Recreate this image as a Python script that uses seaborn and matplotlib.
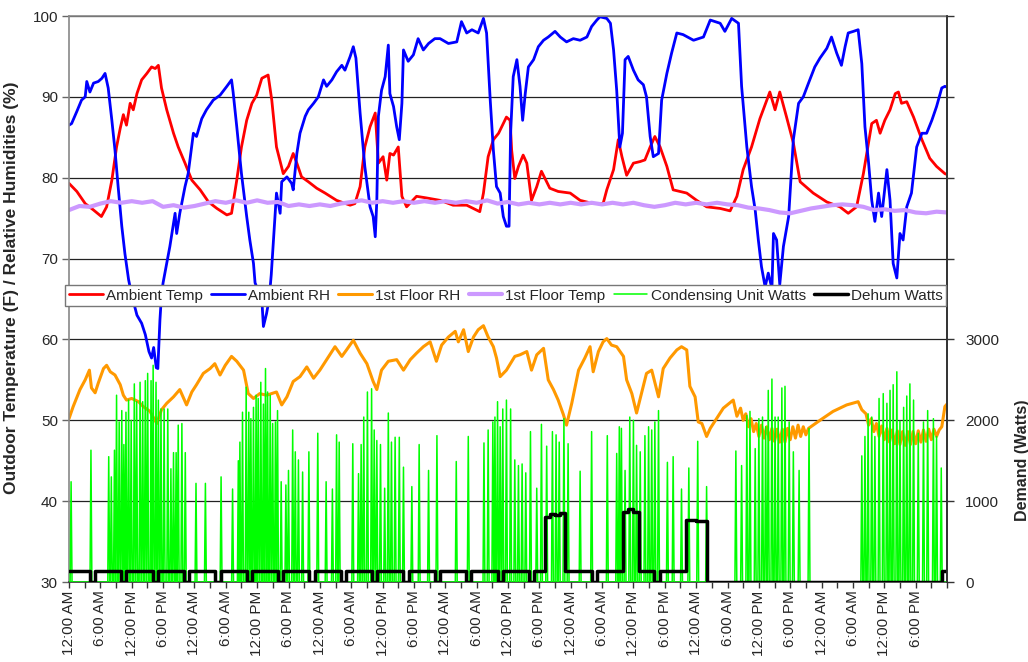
import numpy as np
import matplotlib
matplotlib.use("Agg")
import matplotlib.pyplot as plt
import seaborn as sns

# ---------------- data (hours from start of week) ----------------
tod_labels = ["12:00 AM", "6:00 AM", "12:00 PM", "6:00 PM"]
n_days = 7

at_t = [0, 1.5, 3.1, 4.7, 6.2, 7.2, 8.2, 9.1, 9.8, 10.4, 11.0, 11.7, 12.3, 13.0, 13.9, 14.9, 15.8, 16.5,
        17.1, 17.7, 18.7, 20.0, 20.9, 22.2, 23.5, 25.1, 26.7, 28.3, 30.2, 31.1, 32.1, 33.0, 34.0, 35.0,
        35.9, 36.9, 37.5, 38.1, 38.8, 39.7, 41.0, 42.0, 42.9, 43.6, 44.5, 45.8, 47.4, 49.0, 51.2, 53.8,
        54.7, 55.7, 56.6, 57.6, 58.6, 58.8, 59.2, 60.1, 60.8, 61.4, 62.1, 63.0, 63.7, 64.6, 66.5, 68.4,
        71.0, 73.5, 76.1, 78.6, 79.3, 80.2, 81.2, 82.2, 83.1, 83.7, 84.4, 84.7, 85.3, 86.0, 86.9, 87.6,
        88.5, 89.5, 90.4, 92.0, 93.6, 95.9, 97.8, 100.3, 102.2, 102.9, 104.2, 105.1, 105.8, 106.7, 108.0,
        109.3, 110.2, 111.2, 112.1, 113.1, 114.4, 115.6, 118.2, 120.1, 122.0, 124.6, 126.5, 127.8, 129.0,
        130.6, 132.2, 134.1, 135.1, 136.0, 137.3, 138.6, 139.9, 142.4, 145.0, 147.5, 149.1, 150.7, 152.0,
        153.6, 154.5, 155.2, 156.1, 157.1, 158.1, 158.7, 159.3, 160.3, 161.6, 163.2, 164.7, 166.0, 167.6, 168.0]
at_v = [79.3, 78.3, 76.8, 76.0, 75.2, 76.4, 79.7, 83.8, 86.1, 87.8, 86.5, 89.2, 88.4, 90.4, 92.1, 92.9, 93.7, 93.5,
        93.9, 91.1, 88.4, 85.5, 83.8, 81.8, 79.7, 78.5, 77.0, 76.2, 75.4, 75.6, 79.7, 83.8, 87.1, 89.2,
        90.2, 92.3, 92.5, 92.7, 89.6, 83.8, 80.5, 81.4, 83.0, 81.8, 80.1, 79.5, 78.7, 78.1, 77.2, 76.6,
        76.8, 78.9, 83.8, 86.3, 88.0, 85.9, 81.8, 82.6, 79.7, 83.0, 82.8, 83.8, 77.7, 76.4, 77.7, 77.5,
        77.2, 76.6, 76.6, 75.8, 78.1, 82.6, 84.7, 85.5, 86.7, 87.5, 87.1, 83.4, 79.9, 81.4, 82.8, 81.8,
        77.2, 78.9, 80.8, 78.7, 78.3, 78.1, 77.2, 76.8, 76.8, 78.5, 81.0, 84.7, 82.6, 80.3, 81.8,
        82.0, 82.2, 83.8, 85.1, 83.8, 81.4, 78.5, 78.1, 77.2, 76.4, 76.2, 75.9, 77.7, 81.0,
        83.8, 87.3, 90.6, 88.4, 90.6, 87.5, 84.3, 79.5, 78.1, 77.0, 76.4, 75.6, 76.4, 80.5,
        86.7, 87.1, 85.5, 87.1, 88.4, 90.4, 90.6, 89.2, 89.4, 87.5, 84.7, 82.4, 81.4, 80.5, 80.4]

rh_t = [0, 0.5, 1.5, 2.4, 3.1, 3.4, 4.0, 4.7, 5.6, 6.3, 6.9, 7.5, 8.2, 8.8, 9.4, 10.1, 10.7, 11.4, 12.0, 13.0,
        13.9, 14.6, 15.3, 15.8, 16.2, 16.7, 17.0, 17.4, 17.7, 18.0, 19.3, 20.3, 20.6, 21.2, 22.2, 22.8, 23.8,
        24.4, 25.4, 26.3, 27.6, 28.9, 30.2, 31.1, 31.4, 32.1, 33.0, 34.0, 34.6, 35.3, 35.6, 36.9, 37.2, 37.8,
        38.3, 38.7, 39.7, 40.4, 40.7, 41.7, 42.6, 42.9, 43.6, 44.2, 45.2, 45.8, 46.8, 47.7, 48.7, 49.3, 50.3,
        51.2, 52.2, 52.8, 53.8, 54.4, 54.9, 55.7, 56.6, 57.6, 58.2, 58.6, 58.9, 59.2, 59.8, 60.5, 61.1, 61.4,
        62.1, 62.7, 63.2, 63.7, 64.0, 64.9, 65.9, 66.8, 67.8, 68.8, 70.0, 71.0, 72.6, 74.2, 75.1, 76.1, 77.1,
        78.3, 79.3, 79.9, 80.6, 81.2, 81.8, 82.5, 83.1, 83.7, 84.2, 84.5, 85.0, 85.7, 86.3, 86.8, 87.3, 87.9,
        88.9, 89.8, 90.8, 91.7, 93.0, 94.0, 95.2, 96.5, 97.8, 99.1, 100.0, 101.0, 101.6, 102.9, 103.6, 104.2,
        104.8, 105.4, 105.9, 106.4, 107.0, 108.0, 108.9, 109.9, 110.5, 111.2, 111.8, 112.8, 113.4, 114.4,
        115.3, 116.3, 117.5, 119.5, 121.4, 122.7, 124.6, 125.5, 126.8, 128.1, 128.7, 129.7, 130.6, 131.3,
        131.9, 132.5, 133.2, 133.8, 134.5, 134.8, 135.4, 136.0, 136.7, 137.7, 138.6, 139.6, 140.5, 141.5,
        142.7, 143.7, 145.0, 145.9, 146.9, 147.8, 148.5, 149.1, 150.1, 151.0, 151.7, 152.3, 153.0, 153.6,
        154.2, 154.9, 155.5, 156.5, 157.1, 157.7, 158.4, 159.0, 159.6, 160.3, 161.2, 162.2, 163.2, 164.1,
        165.1, 166.0, 167.0, 167.6, 168.0]
rh_v = [86.5, 86.7, 88.2, 89.6, 90.0, 91.9, 90.6, 91.7, 91.9, 92.3, 92.9, 91.1, 87.1, 83.4, 78.9, 74.0, 70.6, 67.4, 65.5, 63.0,
        62.0, 60.6, 58.5, 57.7, 59.0, 56.5, 56.4, 62.4, 65.5, 67.0, 71.5, 75.6, 73.1, 75.6, 78.9, 80.5, 85.5,
        85.1, 87.3, 88.4, 89.6, 90.2, 91.3, 92.1, 90.6, 86.3, 80.5, 75.2, 72.3, 69.4, 67.0, 64.9, 61.6, 63.2,
        65.0, 68.0, 78.1, 75.6, 79.5, 80.1, 79.3, 78.5, 83.0, 85.5, 87.6, 88.4, 89.2, 90.0, 92.1, 91.3, 92.1,
        93.1, 93.9, 93.3, 95.0, 96.2, 94.8, 88.0, 81.4, 76.4, 75.2, 72.7, 77.2, 87.6, 90.8, 92.5, 96.4, 90.4,
        88.8, 86.3, 84.7, 89.2, 95.8, 94.4, 95.2, 97.2, 95.8, 96.6, 97.2, 97.2, 96.6, 96.8, 99.3, 97.9, 98.3,
        97.9, 99.7, 97.9, 89.6, 83.4, 78.9, 78.1, 75.2, 74.0, 74.0, 85.5, 92.5, 94.6, 91.3, 87.1, 90.4, 93.7,
        94.6, 96.2, 97.0, 97.4, 98.1, 97.4, 96.8, 97.2, 97.0, 97.4, 98.7, 99.5, 99.9, 99.7, 99.1, 95.8,
        90.8, 83.8, 85.5, 94.6, 95.0, 93.3, 92.1, 91.5, 90.0, 85.1, 82.6, 83.0, 89.6, 92.9,
        95.4, 97.9, 97.7, 97.0, 97.4, 99.5, 99.1, 98.1, 99.7, 99.1, 91.3, 83.8, 78.9, 76.0,
        72.3, 69.0, 66.5, 68.2, 66.3, 73.1, 72.3, 66.8, 71.5, 75.2, 84.7, 89.2, 90.0, 91.7,
        93.7, 94.8, 96.0, 97.4, 95.4, 93.9, 96.2, 97.9, 98.1, 98.3, 94.1, 86.3, 81.8, 77.2,
        74.6, 78.1, 75.2, 81.0, 77.2, 69.4, 67.6, 73.1, 72.3, 76.4, 78.1, 83.8, 85.5, 85.5,
        87.1, 88.8, 91.1, 91.3, 91.2]

frh_t = [0, 0.8, 2.1, 3.1, 3.9, 4.3, 5.0, 5.6, 6.6, 7.2, 7.9, 8.8, 9.8, 10.4, 11.0, 12.0, 13.3, 14.2, 15.5, 16.8,
         17.7, 18.7, 20.0, 21.2, 22.5, 23.5, 24.4, 25.7, 27.0, 27.9, 28.9, 29.9, 31.1, 32.1, 33.4, 34.3, 35.3,
         36.5, 37.8, 39.7, 40.7, 41.7, 42.9, 44.2, 45.5, 46.8, 48.0, 49.3, 50.9, 52.2, 53.1, 54.4, 55.7, 57.0,
         58.2, 58.9, 59.8, 61.1, 62.7, 64.0, 65.3, 66.5, 67.8, 69.1, 70.3, 71.3, 72.6, 73.9, 74.5, 75.5, 76.4,
         77.4, 78.3, 79.3, 80.2, 81.2, 81.8, 82.5, 83.7, 85.3, 86.3, 87.6, 88.5, 89.5, 90.8, 91.7, 92.7, 93.6,
         94.6, 95.2, 96.2, 97.5, 98.7, 99.7, 100.3, 101.3, 102.2, 102.9, 103.8, 104.8, 106.1, 106.7, 107.7,
         108.6, 109.3, 110.5, 111.5, 112.8, 113.7, 115.0, 116.3, 117.2, 118.2, 118.8, 119.8, 120.4, 121.1,
         122.0, 122.7, 123.9, 125.2, 127.1, 127.8, 128.5, 129.0, 129.5, 130.0, 130.5, 131.0, 131.5, 132.0,
         132.5, 133.0, 133.5, 134.0, 134.5, 135.0, 135.5, 136.0, 136.5, 137.0, 137.5, 138.0, 138.5, 139.0,
         139.5, 140.0, 140.5, 141.0, 141.5, 143.7, 146.2, 148.8, 151.0, 151.7, 152.5, 153.0, 153.5, 154.0,
         154.5, 155.0, 155.5, 156.0, 156.5, 157.0, 157.5, 158.0, 158.5, 159.0, 159.5, 160.0, 160.5, 161.0,
         161.5, 162.0, 162.5, 163.0, 163.5, 164.0, 164.5, 165.0, 165.5, 166.0, 166.5, 167.0, 167.6, 168.0]
frh_v = [50.2, 51.7, 53.8, 55.0, 56.2, 54.0, 53.4, 54.6, 56.4, 56.8, 56.0, 55.6, 54.4, 53.1, 52.5, 52.7, 52.3, 51.7, 51.1, 49.6,
         51.3, 52.1, 52.9, 53.8, 51.9, 53.5, 54.4, 55.8, 56.4, 57.0, 55.6, 56.8, 57.9, 57.3, 56.2, 53.3, 52.7,
         53.3, 53.1, 53.5, 51.9, 52.9, 54.8, 55.4, 56.6, 55.2, 56.2, 57.5, 59.1, 57.9, 58.7, 59.9, 58.3, 57.0,
         54.8, 53.8, 56.2, 57.3, 57.5, 56.2, 57.5, 58.3, 59.1, 59.7, 57.3, 59.3, 60.3, 61.0, 59.7, 61.2, 58.5,
         60.3, 61.2, 61.7, 60.3, 59.1, 57.7, 55.4, 56.2, 57.9, 58.1, 58.5, 56.2, 58.1, 58.9, 55.0, 53.8, 52.5,
         50.7, 49.4, 52.1, 56.2, 57.7, 59.1, 56.0, 58.5, 59.7, 60.1, 59.3, 59.1, 57.9, 55.0, 53.3,
         50.9, 52.7, 55.8, 56.2, 52.9, 56.4, 57.7, 58.7, 59.1, 58.7, 54.2, 52.9, 49.8, 49.6,
         48.0, 49.0, 50.2, 51.5, 52.5, 50.5, 51.5, 50.0, 50.8, 49.2, 50.2, 48.6, 49.6, 48.0,
         49.4, 47.8, 49.2, 47.6, 49.0, 47.4, 48.9, 47.3, 48.9, 47.3, 49.0, 47.6, 49.2, 47.8,
         49.4, 48.0, 49.2, 48.2, 49.0, 50.0, 51.1, 51.9, 52.3, 51.3, 50.8, 49.4, 50.2, 48.6,
         49.6, 48.0, 49.3, 47.6, 49.0, 47.3, 48.8, 47.1, 48.7, 47.0, 48.6, 46.9, 48.6, 47.0,
         48.6, 47.1, 48.7, 47.3, 48.8, 47.4, 48.9, 47.6, 48.9, 48.0, 48.8, 49.2, 51.7, 52.0]

ft_t = np.arange(0, 169, 2)
ft_v = [76.0, 76.5, 76.4, 76.8, 77.1, 76.9, 77.1, 76.9, 77.1, 76.4, 76.6, 76.3, 76.5, 76.8, 77.1, 76.9, 77.2,
        76.9, 77.2, 76.9, 77.0, 76.5, 76.7, 76.5, 76.7, 76.5, 76.8, 77.0, 77.2, 76.9, 77.1, 76.9, 77.1, 76.9,
        77.1, 76.9, 77.1, 76.9, 77.1, 76.9, 77.2, 76.8, 77.0, 76.7, 76.9, 76.7, 76.9, 76.7, 76.9, 76.7, 76.9,
        76.7, 76.9, 76.7, 76.9, 76.6, 76.4, 76.6, 76.9, 76.7, 76.9, 76.7, 76.9, 76.7, 76.6, 76.3, 76.2, 76.0,
        75.7, 75.6, 75.9, 76.2, 76.4, 76.6, 76.7, 76.6, 76.4, 76.0, 76.1, 75.9, 76.0, 75.7, 75.6, 75.8, 75.7]

cu_t = [0.4, 4.2, 7.6, 8.1, 8.7, 9.1, 9.6, 10.1, 10.5, 10.9, 11.4, 11.9, 12.5, 12.95, 13.6, 14.1, 14.6, 15.05,
        15.7, 16.1, 16.65, 17.1, 17.6, 18.2, 18.9, 19.5, 20.0, 20.5, 20.9, 21.6, 22.25, 24.3, 26.1, 29.1, 31.3,
        32.4, 32.7, 33.2, 33.9, 34.4, 34.8, 35.3, 35.8, 36.2, 36.7, 37.2, 37.6, 38.0, 38.5, 38.97, 39.5, 39.9,
        40.6, 41.5, 42.0, 42.8, 43.3, 43.9, 44.7, 45.9, 47.6, 49.2, 50.4, 51.2, 51.7, 54.3, 55.4, 55.9, 56.4,
        57.1, 57.9, 58.4, 58.9, 59.6, 60.4, 61.1, 61.7, 62.4, 63.2, 64.0, 65.6, 67.0, 68.8, 70.4, 74.1, 76.4,
        79.4, 80.2, 81.1, 81.5, 82.0, 82.5, 83.0, 83.7, 84.5, 85.3, 86.0, 86.7, 87.4, 88.3, 89.5, 90.4, 91.4,
        92.5, 93.2, 93.8, 94.7, 95.5, 97.8, 100.0, 103.0, 104.8, 105.3, 105.7, 106.4, 107.3, 108.0, 108.6,
        109.3, 110.2, 110.9, 111.5, 112.1, 112.8, 114.5, 115.6, 117.2, 118.6, 120.3, 122.0, 127.6, 128.7,
        129.7, 130.3, 131.3, 132.0, 132.7, 133.3, 133.8, 134.5, 135.1, 135.7, 136.4, 137.0, 137.8, 138.6,
        139.7, 141.6, 151.7, 152.3, 152.9, 153.6, 154.2, 155.0, 155.8, 156.5, 157.1, 157.7, 158.4, 159.0,
        159.7, 160.3, 160.9, 161.6, 162.5, 163.5, 164.3, 165.4, 166.0, 166.9]
cu_w = [1240, 1630, 1550, 1300, 1630, 2310, 1980, 2120, 1700, 2100, 2250, 2000, 2450, 2230, 2470, 2230, 2490, 2580,
        2490, 2680, 2470, 2250, 2140, 2140, 2140, 1400, 1600, 1600, 1940, 1960, 1600, 1220, 1220, 1300, 1150,
        1500, 1730, 2100, 2410, 2100, 2020, 2160, 2310, 2270, 2470, 2200, 2640, 2350, 2310, 1960, 1980, 2120,
        1240, 1200, 1380, 1880, 1610, 1510, 1360, 1610, 1840, 1240, 1150, 1820, 1730, 1710, 1340, 1700, 2040,
        2350, 2390, 1880, 1750, 1700, 1160, 2090, 1730, 1790, 1790, 1420, 1180, 1700, 1380, 1810, 1490, 1800,
        1720, 1880, 1980, 2040, 2230, 1920, 2140, 2250, 2140, 1510, 1440, 1460, 1350, 1860, 1160, 1950, 1680,
        1860, 1820, 1730, 2020, 1710, 1370, 1860, 1810, 1590, 1920, 1900, 1380, 2040, 2000, 1690,
        1610, 1810, 1920, 1880, 1980, 2120, 1480, 1550, 1150, 1410, 1740, 1180, 1620, 1440,
        2060, 2110, 1650, 2020, 2040, 1920, 2370, 2510, 2040, 2040, 2400, 2420, 1980, 1610,
        1380, 1900, 1560, 1800, 2080, 2040, 1800, 2270, 2330, 2210, 2370, 2440, 2600, 1990,
        2160, 2300, 2450, 2250, 1840, 1980, 2120, 2020, 1800, 1410]

# dehumidifier watts, one value per hour (rows = days)
dehum_w = [
    [130, 130, 130, 130, 0, 130, 130, 130, 130, 130, 0, 130, 130, 130, 130, 130, 0, 130, 130, 130, 130, 130, 0, 130],
    [130, 130, 130, 130, 0, 130, 130, 130, 130, 130, 0, 130, 130, 130, 130, 130, 0, 130, 130, 130, 130, 130, 0, 130],
    [130, 130, 130, 130, 0, 130, 130, 130, 130, 130, 0, 130, 130, 130, 130, 130, 0, 130, 130, 130, 130, 130, 0, 130],
    [130, 130, 130, 130, 0, 130, 130, 130, 130, 130, 0, 130, 130, 130, 130, 130, 0, 130, 130, 810, 840, 830, 850, 130],
    [130, 130, 130, 130, 0, 130, 130, 130, 130, 130, 870, 900, 860, 130, 130, 130, 0, 130, 130, 130, 130, 130, 770, 765],
    [760, 750, 0, 0, 0, 0, 0, 0, 0, 0, 0, 0, 0, 0, 0, 0, 0, 0, 0, 0, 0, 0, 0, 0],
    [0, 0, 0, 0, 0, 0, 0, 0, 0, 0, 0, 0, 0, 0, 0, 0, 0, 0, 0, 0, 0, 0, 0, 130],
]

# ---------------- derived series ----------------
spike_half = 0.18
cu_x, cu_y = [], []
for t, w in zip(cu_t, cu_w):
    cu_x += [t - spike_half, t, t + spike_half]
    cu_y += [0, w, 0]
cu_x = [0] + cu_x + [168]
cu_y = [0] + cu_y + [0]

dh_flat = [v for day in dehum_w for v in day]
dh_x, dh_y = [], []
for h, v in enumerate(dh_flat):
    dh_x += [h, h + 1]
    dh_y += [v, v]

# ---------------- figure ----------------
sns.set_theme(style="white")
plt.rcParams["font.family"] = ["Liberation Sans", "DejaVu Sans"]

W, H = 1028, 662
fig = plt.figure(figsize=(W / 100, H / 100), dpi=100)
ax = fig.add_axes([69 / W, 80 / H, 878 / W, 566 / H])
ax2 = ax.twinx()

kw = dict(estimator=None, sort=False)
sns.lineplot(x=at_t, y=at_v, ax=ax, color="#FF0000", lw=2.0, label="Ambient Temp", **kw)
sns.lineplot(x=rh_t, y=rh_v, ax=ax, color="#0000FF", lw=2.0, label="Ambient RH", **kw)
sns.lineplot(x=frh_t, y=frh_v, ax=ax, color="#FF9900", lw=2.2, label="1st Floor RH", **kw)
sns.lineplot(x=ft_t, y=ft_v, ax=ax, color="#CC99FF", lw=3.0, label="1st Floor Temp", **kw)
sns.lineplot(x=cu_x, y=cu_y, ax=ax2, color="#00FF00", lw=1.1, label="Condensing Unit Watts", **kw)
sns.lineplot(x=dh_x, y=dh_y, ax=ax2, color="#000000", lw=2.5, label="Dehum Watts", **kw)

# primary axis
ax.set_xlim(0, 168)
ax.set_ylim(30, 100)
ax.set_yticks(range(30, 101, 10))
ax.set_yticklabels([str(v) for v in range(30, 101, 10)], fontsize=11)
ax.yaxis.grid(True, color="#222222", lw=0.9)
ax.xaxis.grid(False)
ax.set_axisbelow(True)

major = np.arange(0, 168, 6)
ax.set_xticks(major)
ax.set_xticklabels(tod_labels * n_days, rotation=90, fontsize=11)
ax.set_xticks(np.arange(0, 169, 3), minor=True)
ax.tick_params(axis="x", which="both", direction="out", length=4, width=1, color="#333333", pad=2, bottom=True)
ax.tick_params(axis="y", direction="out", length=5, width=1, color="#666666", pad=3, left=True)

ax.set_ylabel("Outdoor Temperature (F) / Relative Humidities (%)", fontsize=12.5, fontweight="bold")
ax.yaxis.set_label_coords(-0.057, 0.52)
ax.set_xlabel("")

for side in ["left", "top"]:
    ax.spines[side].set_color("#888888")
ax.spines["bottom"].set_color("#333333")
for s in ax.spines.values():
    s.set_linewidth(1.2)

# secondary axis
ax2.set_ylim(0, 7000)
ax2.set_yticks(range(0, 7001, 1000))
ax2.set_yticklabels([str(v) if v <= 3000 else "" for v in range(0, 7001, 1000)], fontsize=11)
ax2.tick_params(axis="y", direction="out", length=5, width=1, color="#333333", pad=8, right=True)
ax2.set_ylabel("Demand (Watts)", fontsize=11.5, fontweight="bold")
ax2.yaxis.set_label_coords(1.077, 0.215)
ax2.spines["right"].set_color("#333333")
ax2.spines["right"].set_linewidth(1.2)
for side in ["left", "top", "bottom"]:
    ax2.spines[side].set_visible(False)
ax2.grid(False)

# legend (single row, over the plot)
h1, l1 = ax.get_legend_handles_labels()
h2, l2 = ax2.get_legend_handles_labels()
for a in (ax, ax2):
    if a.get_legend() is not None:
        a.get_legend().remove()
leg = ax2.legend(h1 + h2, l1 + l2, loc="center left", bbox_to_anchor=(-0.004, 0.506), ncol=6,
                 fontsize=11, frameon=True, fancybox=False, framealpha=1, edgecolor="#777777",
                 handlelength=2.2, handletextpad=0.2, columnspacing=0.55, borderpad=0.25,
                 borderaxespad=0)
leg.get_frame().set_linewidth(1.0)
leg.set_zorder(10)

fig.savefig("out.png", dpi=100)
